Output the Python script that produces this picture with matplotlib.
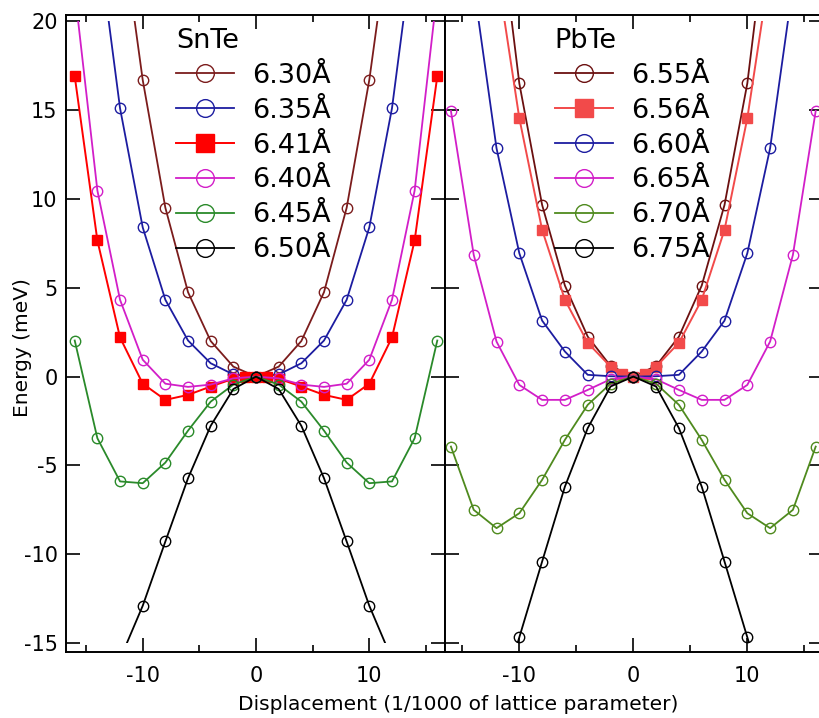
import numpy as np
import matplotlib
matplotlib.use('Agg')
import matplotlib.pyplot as plt
from matplotlib.transforms import Bbox, TransformedBbox

nan = np.nan

# displacement grid (1/1000 of lattice parameter)
x = [-16, -14, -12, -10, -8, -6, -4, -2, 0, 2, 4, 6, 8, 10, 12, 14, 16]
x_fine = [-16, -14, -12, -10, -8, -6, -4, -2, -1, 0, 1, 2, 4, 6, 8, 10, 12, 14, 16]

# SnTe energies (meV)
snte_630 = [nan, nan, 26.0, 16.7, 9.5, 4.75, 2.0, 0.56, 0.0, 0.56, 2.0, 4.75, 9.5, 16.7, 26.0, nan, nan]
snte_635 = [nan, 24.9, 15.1, 8.4, 4.32, 2.03, 0.75, 0.12, 0.0, 0.12, 0.75, 2.03, 4.32, 8.4, 15.1, 24.9, nan]
snte_641 = [16.9, 7.66, 2.2, -0.4, -1.31, -1.03, -0.56, -0.12, -0.05, 0.0, -0.05, -0.12, -0.56, -1.03, -1.31, -0.4, 2.2, 7.66, 16.9]
snte_640 = [21.7, 10.47, 4.32, 0.95, -0.4, -0.58, -0.45, -0.1, 0.0, -0.1, -0.45, -0.58, -0.4, 0.95, 4.32, 10.47, 21.7]
snte_645 = [2.03, -3.47, -5.9, -6.0, -4.84, -3.04, -1.41, -0.45, 0.0, -0.45, -1.41, -3.04, -4.84, -6.0, -5.9, -3.47, 2.03]
snte_650 = [nan, nan, -15.9, -12.9, -9.28, -5.72, -2.77, -0.7, 0.0, -0.7, -2.77, -5.72, -9.28, -12.9, -15.9, nan, nan]

# PbTe energies (meV)
pbte_655 = [nan, nan, 27.0, 16.5, 9.66, 5.12, 2.25, 0.6, 0.0, 0.6, 2.25, 5.12, 9.66, 16.5, 27.0, nan, nan]
pbte_656 = [nan, nan, 23.0, 14.54, 8.26, 4.32, 1.9, 0.56, 0.15, 0.0, 0.15, 0.56, 1.9, 4.32, 8.26, 14.54, 23.0, nan, nan]
pbte_660 = [nan, 22.0, 12.85, 6.94, 3.15, 1.41, 0.1, 0.02, 0.0, 0.02, 0.1, 1.41, 3.15, 6.94, 12.85, 22.0, nan]
pbte_665 = [14.95, 6.85, 1.97, -0.47, -1.31, -1.31, -0.75, -0.15, 0.0, -0.15, -0.75, -1.31, -1.31, -0.47, 1.97, 6.85, 14.95]
pbte_670 = [-3.94, -7.5, -8.53, -7.69, -5.81, -3.56, -1.59, -0.4, 0.0, -0.4, -1.59, -3.56, -5.81, -7.69, -8.53, -7.5, -3.94]
pbte_675 = [nan, nan, -19.0, -14.67, -10.41, -6.19, -2.9, -0.56, 0.0, -0.56, -2.9, -6.19, -10.41, -14.67, -19.0, nan, nan]

snte_series = [
    (x, snte_630, '6.30Å', '#7b1c1c', 'o'),
    (x, snte_635, '6.35Å', '#1c1ca0', 'o'),
    (x_fine, snte_641, '6.41Å', '#ff0000', 's'),
    (x, snte_640, '6.40Å', '#d21ec8', 'o'),
    (x, snte_645, '6.45Å', '#2a8a2a', 'o'),
    (x, snte_650, '6.50Å', '#000000', 'o'),
]
pbte_series = [
    (x, pbte_655, '6.55Å', '#6b1010', 'o'),
    (x_fine, pbte_656, '6.56Å', '#f24a4a', 's'),
    (x, pbte_660, '6.60Å', '#1c1ca0', 'o'),
    (x, pbte_665, '6.65Å', '#d21ec8', 'o'),
    (x, pbte_670, '6.70Å', '#4f8a1e', 'o'),
    (x, pbte_675, '6.75Å', '#000000', 'o'),
]

plt.rcParams['font.family'] = 'DejaVu Sans'
plt.rcParams['axes.unicode_minus'] = False

W, H = 820, 718
fig = plt.figure(figsize=(W / 100, H / 100), dpi=100)
bottom = 1 - 652 / H
height = 637 / H
ax1 = fig.add_axes([66 / W, bottom, (445 - 66) / W, height])
ax2 = fig.add_axes([445 / W, bottom, (823 - 445) / W, height])

YLIM = (-15.5, 20.35)


def draw_panel(ax, series, xlim, title, show_ylabels):
    ax.set_xlim(xlim)
    ax.set_ylim(YLIM)
    clip = TransformedBbox(Bbox([[xlim[0], -15], [xlim[1], 20]]), ax.transData)
    for xs, ys, label, color, marker in series:
        if marker == 's':
            line, = ax.plot(xs, ys, '-', color=color, lw=1.4, marker='s', ms=7.5,
                            mfc=color, mec=color, label=label)
        else:
            line, = ax.plot(xs, ys, '-', color=color, lw=1.3, marker='o', ms=7.5,
                            mfc='none', mec=color, mew=1.0, label=label)
        line.set_clip_box(clip)

    ax.set_xticks([-10, 0, 10])
    ax.set_xticks([-15, -5, 5, 15], minor=True)
    ax.set_yticks([-15, -10, -5, 0, 5, 10, 15, 20])
    ax.tick_params(which='both', direction='in', top=True, right=True, width=1.2)
    ax.tick_params(which='major', length=10)
    ax.tick_params(which='minor', length=5)
    ax.tick_params(axis='x', labelsize=15, pad=10)
    ax.tick_params(axis='y', labelsize=15, pad=6, labelleft=show_ylabels)
    for sp in ax.spines.values():
        sp.set_linewidth(1.4)

    leg = ax.legend(title=title, loc='upper left', bbox_to_anchor=(0.29, 0.98),
                    frameon=False, fontsize=19.5, title_fontsize=19.5,
                    handlelength=2.15, handletextpad=0.66, labelspacing=0.33,
                    borderpad=0, borderaxespad=0, markerscale=1.7,
                    alignment='left')
    return leg


draw_panel(ax1, snte_series, (-16.77, 16.68), 'SnTe', True)
draw_panel(ax2, pbte_series, (-16.52, 16.64), 'PbTe', False)

fig.text(458 / W, 1 - 705 / H, 'Displacement (1/1000 of lattice parameter)',
         ha='center', va='center', fontsize=14.5)
fig.text(23 / W, 1 - 348 / H, 'Energy (meV)', rotation=90,
         ha='center', va='center', fontsize=14.5)

fig.savefig('out.png', dpi=100)
